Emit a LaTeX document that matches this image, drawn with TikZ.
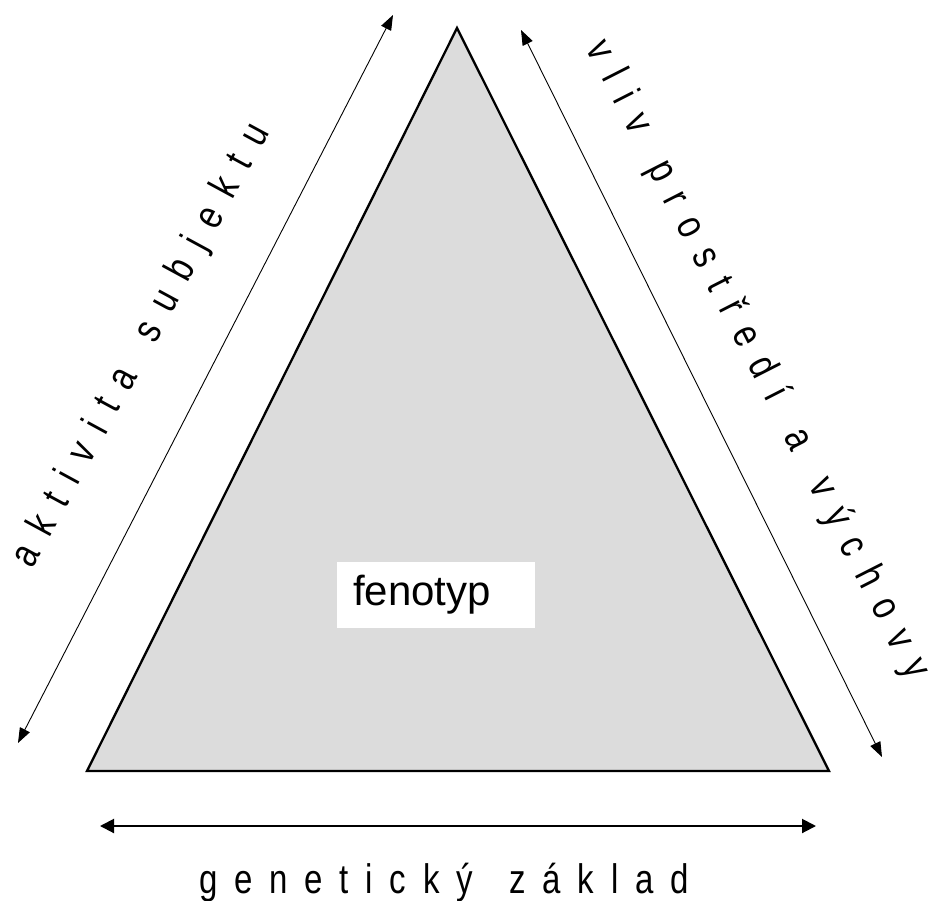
\documentclass[tikz,border=0pt]{standalone}
\usepackage{fontspec}
\setmainfont{Liberation Sans}
\usetikzlibrary{arrows.meta}
\newfontfamily\spacedfont[LetterSpace=51,WordSpace=1.4]{Liberation Sans}
\newcommand{\tallbox}[1]{\scalebox{1}[1.25]{#1}}
\begin{document}
\begin{tikzpicture}[x=1pt,y=-1pt,
  thinarrow/.style={{Triangle[length=15pt,width=11pt]}-{Triangle[length=15pt,width=11pt]}, line width=0.9pt},
  thickarrow/.style={{Triangle[length=14pt,width=14pt]}-{Triangle[length=14pt,width=14pt]}, line width=2pt},
  spaced/.style={font=\fontsize{33}{38}\selectfont\spacedfont, inner sep=0pt},
  tri/.style={draw=black, line width=2.3pt, fill={rgb,255:red,220;green,220;blue,220}, line join=miter}]
\useasboundingbox (0,0) rectangle (932,900);
\coordinate (apex) at (457,28);
\coordinate (bl) at (87,771);
\coordinate (br) at (829,771);
\draw[tri] (apex) -- (bl) -- (br) -- cycle;
\node[fill=white, text width=166pt, align=left, inner xsep=16pt, minimum height=66pt, inner ysep=0pt,
      font=\fontsize{42}{48}\selectfont, anchor=west] (feno) at (337,595) {fenotyp};
\coordinate (la) at (18,743);
\coordinate (lb) at (393,15);
\coordinate (ra) at (521,30);
\coordinate (rb) at (882,757);
\coordinate (ba) at (100,826);
\coordinate (bb) at (816,826);
\draw[thinarrow] (la) -- (lb);
\draw[thinarrow] (ra) -- (rb);
\draw[thickarrow] (ba) -- (bb);
\node[spaced, rotate=61.5] (aktiv) at (142,346) {\tallbox{aktivita subjektu}};
\node[spaced, rotate=-63.0] (vliv) at (757,360) {\tallbox{vliv prostředí a výchovy}};
\node[spaced, anchor=base] (gen) at (444,893) {\tallbox{genetický základ}};
\end{tikzpicture}
\end{document}
